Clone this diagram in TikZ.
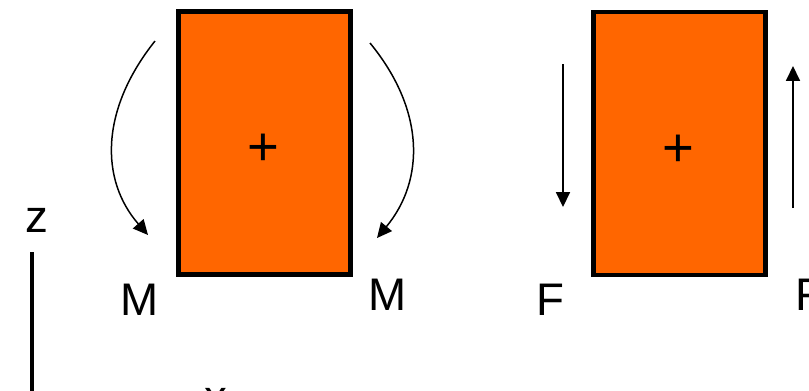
\documentclass[tikz,border=0pt]{standalone}
\usepackage{fontspec}
\setmainfont{Liberation Sans}
\usetikzlibrary{arrows.meta,positioning,calc}
\definecolor{beamorange}{HTML}{FF6600}

\begin{document}
\begin{tikzpicture}[
  x=0.02cm, y=-0.02cm,
  font=\fontsize{26}{30}\selectfont,
  beam/.style={draw=black, fill=beamorange, line width=2.55pt, minimum width=3.44cm, minimum height=5.26cm, inner sep=0pt},
  sign/.style={inner sep=0pt, font=\fontsize{31}{36}\selectfont},
  load/.style={-{Triangle[length=8.5pt,width=8pt]}, line width=.85pt},
  lbl/.style={anchor=base, inner sep=0pt},
  axis/.style={line width=1.8pt}
]
\useasboundingbox (0,0) rectangle (809,390);
\clip (0,0) rectangle (809,390);

\node[beam] (beamL) at (264.5,143) {};
\node[beam] (beamR) at (679.5,143.5) {};
\node[sign] (plusL) at ($(beamL.center)+(-1.5,7)$) {+};
\node[sign] (plusR) at ($(beamR.center)+(-1.5,7)$) {+};

% Bending moments
\coordinate (mLs) at (155,41);
\coordinate (mLe) at (148,235);
\coordinate (mRs) at (370,43);
\coordinate (mRe) at (377,238);
\draw[load] (mLs) .. controls (100,110) and (100,180) .. (mLe);
\draw[load] (mRs) .. controls (425,110) and (425,180) .. (mRe);
\node[lbl] (mL) at (140,315) {M};
\node[lbl] (mR) at (388,310) {M};

% Shear forces
\coordinate (fLs) at (563,64);
\coordinate (fLe) at (563,207);
\coordinate (fRs) at (793,208);
\coordinate (fRe) at (793,66);
\draw[load] (fLs) -- (fLe);
\draw[load] (fRs) -- (fRe);
\node[lbl] (fL) at (550,315) {F};
\node[lbl] (fR) at (809,310) {F};

% Axes
\node[lbl] (zlab) at (37,232) {z};
\node[lbl] (xlab) at (216,412) {x};
\coordinate (zTop) at (32,252);
\coordinate (zBot) at (32,420);
\draw[axis] (zTop) -- (zBot);
\end{tikzpicture}
\end{document}
